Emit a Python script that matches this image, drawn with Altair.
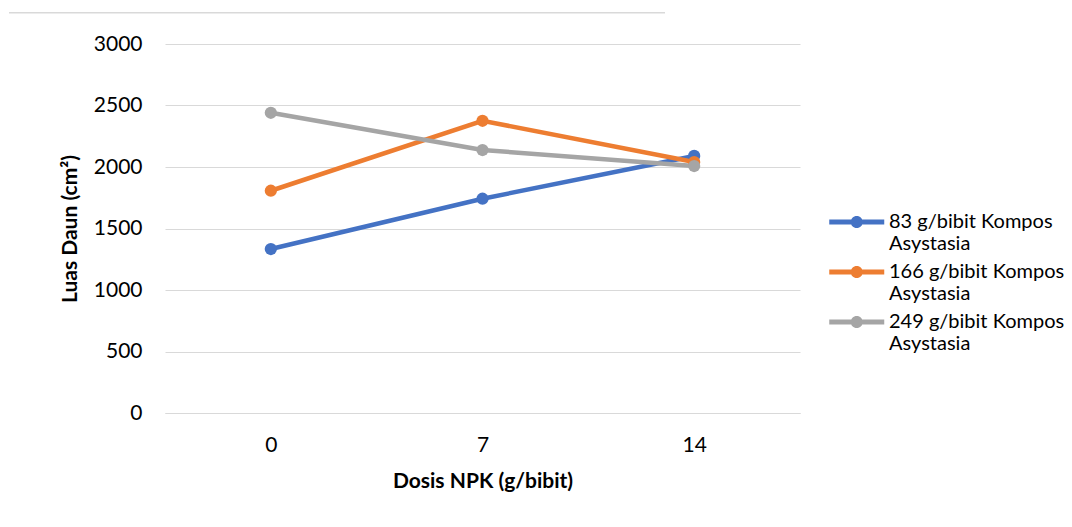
import altair as alt
import pandas as pd

dosis = ["0", "7", "14"]
series_names = ["83 g/bibit Kompos Asystasia", "166 g/bibit Kompos Asystasia", "249 g/bibit Kompos Asystasia"]
s83 = [1333, 1742, 2090]
s166 = [1807, 2376, 2040]
s249 = [2441, 2138, 2008]
colors = ["#4472C4", "#ED7D31", "#A5A5A5"]

rows = []
for name, vals in zip(series_names, [s83, s166, s249]):
    for d, v in zip(dosis, vals):
        rows.append({"dosis": d, "luas": v, "seri": name})
df = pd.DataFrame(rows)

FONT = "Lato"

x = alt.X("dosis:N", sort=dosis, scale=alt.Scale(type="point", padding=0.5),
          axis=alt.Axis(title="Dosis NPK (g/bibit)", labelAngle=0, ticks=False,
                        domainColor="#d9d9d9", domainWidth=1, labelPadding=21,
                        titlePadding=15, grid=False))
y = alt.Y("luas:Q", scale=alt.Scale(domain=[0, 3000]),
          axis=alt.Axis(title="Luas Daun (cm²)", values=[0, 500, 1000, 1500, 2000, 2500, 3000],
                        format="d", ticks=False, domain=False, gridColor="#d9d9d9",
                        labelPadding=23, titlePadding=13))
legend_symbol = ("M-1,-0.18H3V0.18H-1Z "
                 "M1.44,0A0.44,0.44 0 1,1 0.56,0A0.44,0.44 0 1,1 1.44,0Z")
color = alt.Color("seri:N", sort=series_names,
                  scale=alt.Scale(domain=series_names, range=colors),
                  legend=alt.Legend(
                      title=None, orient="none", legendX=664, legendY=164, padding=0,
                      symbolType=legend_symbol,
                      symbolSize=756, symbolStrokeWidth=0, symbolOpacity=1,
                      labelExpr="[replace(datum.label, ' Asystasia', ''), 'Asystasia']",
                      labelFontSize=20, labelFont=FONT, labelColor="#000000",
                      labelLimit=300, labelOffset=32, rowPadding=4))

base = alt.Chart(df)
lines = base.mark_line(strokeWidth=4.5).encode(x=x, y=y, color=color, detail="seri:N")
points = base.mark_point(filled=True, size=150, opacity=1).encode(x=x, y=y, color=color)

frame_src = alt.Chart(pd.DataFrame({"k": [0]}))
frame_top = frame_src.mark_rect(fill="#d9d9d9", strokeWidth=0).encode(
    x=alt.value(-156), x2=alt.value(500), y=alt.value(-32), y2=alt.value(-30.5))

chart = alt.layer(frame_top, lines, points).properties(
    width=635, height=369,
    autosize=alt.AutoSizeParams(type="none"),
    padding={"left": 157, "top": 36, "right": 264, "bottom": 96}
).configure_axis(
    labelFont=FONT, titleFont=FONT, labelFontSize=21, titleFontSize=21,
    labelColor="#000000", titleColor="#000000", titleFontWeight="bold"
).configure_view(stroke=None)

chart.save("out.html", embed_options={"renderer": "svg", "actions": False})
